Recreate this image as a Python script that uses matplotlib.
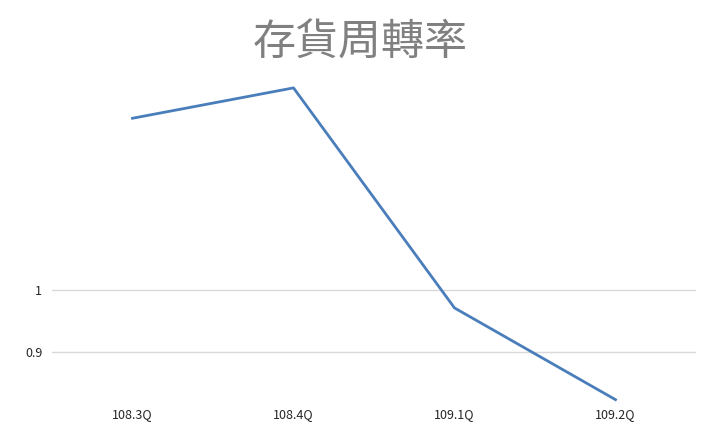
import matplotlib
matplotlib.use("Agg")
import matplotlib.pyplot as plt

plt.rcParams['font.family'] = ['Noto Sans CJK TC', 'DejaVu Sans']

quarters = ['108.3Q', '108.4Q', '109.1Q', '109.2Q']
turnover = [1.277, 1.326, 0.971, 0.823]
y_ticks = [0.9, 1.0]
y_labels = ['0.9', '1']

fig = plt.figure(figsize=(7.2, 4.44), dpi=100)
# axes placed in pixel terms: x 52..696, y 60..404 (from top)
ax = fig.add_axes([52 / 720, (444 - 404) / 444, 644 / 720, 344 / 444])

x = range(len(quarters))
ax.plot(x, turnover, color='#4A7EBB', linewidth=2, clip_on=False)

ax.set_xlim(-0.5, len(quarters) - 0.5)
ax.set_ylim(0.816, 1.371)
ax.set_xticks(list(x))
ax.set_xticklabels(quarters)
ax.set_yticks(y_ticks)
ax.set_yticklabels(y_labels)

ax.grid(axis='y', color='#d9d9d9', linewidth=1)
ax.set_axisbelow(True)
for s in ax.spines.values():
    s.set_visible(False)
ax.tick_params(axis='both', length=0, labelsize=9, colors='#262626')
ax.tick_params(axis='x', pad=3)
ax.tick_params(axis='y', pad=7)

fig.text(0.5, 1 - 44 / 444, '存貨周轉率', ha='center', va='center',
         fontsize=31, color='#808080', fontweight='light')

fig.savefig('out.png', dpi=100)
